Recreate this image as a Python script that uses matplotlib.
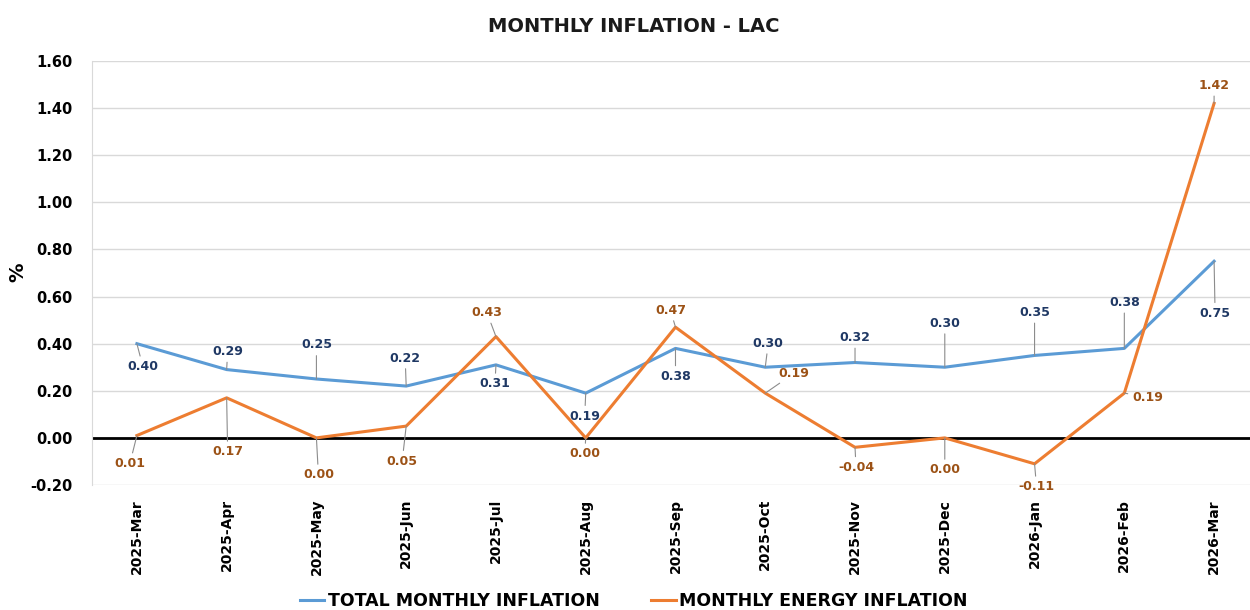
import matplotlib.pyplot as plt
from matplotlib.lines import Line2D

months = ["2025-Mar", "2025-Apr", "2025-May", "2025-Jun", "2025-Jul", "2025-Aug",
          "2025-Sep", "2025-Oct", "2025-Nov", "2025-Dec", "2026-Jan", "2026-Feb",
          "2026-Mar"]
total_infl = [0.40, 0.29, 0.25, 0.22, 0.31, 0.19, 0.38, 0.30, 0.32, 0.30, 0.35, 0.38, 0.75]
energy_infl = [0.01, 0.17, 0.00, 0.05, 0.43, 0.00, 0.47, 0.19, -0.04, 0.00, -0.11, 0.19, 1.42]
yticks = [-0.20, 0.00, 0.20, 0.40, 0.60, 0.80, 1.00, 1.20, 1.40, 1.60]

# label offsets in pixels (dx, dy), placed the way the data labels sit in the source
total_off = [(6, -23), (1, 18), (0, 34), (-1, 28), (-1, -19), (-1, -23), (0, -28),
             (3, 24), (0, 25), (0, 44), (0, 43), (0, 46), (1, -52)]
energy_off = [(-7, -28), (1, -54), (2, -37), (-4, -35), (-9, 24), (-1, -16), (-5, 17),
              (29, 20), (1, -20), (0, -32), (2, -23), (23, -4), (0, 18)]

BLUE = "#5b9bd5"
ORANGE = "#ed7d31"
BLUE_TXT = "#1f3864"
ORANGE_TXT = "#9c5216"
FONT = ["Liberation Sans Narrow", "DejaVu Sans"]
plt.rcParams["font.family"] = FONT

fig = plt.figure(figsize=(12.5, 6.1), dpi=100)
ax = fig.add_axes([92 / 1250, 125 / 610, 1158 / 1250, 424 / 610])

x = list(range(len(months)))
ax.plot(x, total_infl, color=BLUE, lw=2.2, zorder=3)
ax.plot(x, energy_infl, color=ORANGE, lw=2.2, zorder=3)
ax.axhline(0, color="black", lw=2, zorder=2)


def labels(vals, offs, color):
    for i, (v, (dx, dy)) in enumerate(zip(vals, offs)):
        ax.annotate(f"{v:.2f}", (i, v), xytext=(dx, dy), textcoords="offset pixels",
                    ha="center", va="center", fontsize=9, fontweight="bold",
                    color=color, zorder=5,
                    arrowprops=dict(arrowstyle="-", color="#8c8c8c", lw=0.8,
                                    shrinkA=1, shrinkB=0))


labels(total_infl, total_off, BLUE_TXT)
labels(energy_infl, energy_off, ORANGE_TXT)

ax.set_xlim(-0.5, 12.4)
ax.set_ylim(-0.20, 1.60)
ax.set_yticks(yticks)
ax.set_yticklabels([f"{t:.2f}" for t in yticks], fontsize=10.5, fontweight="bold")
ax.set_xticks(x)
ax.set_xticklabels(months, rotation=90, fontsize=10, fontweight="bold")
ax.tick_params(length=0, pad=10)
ax.tick_params(axis="y", pad=14)
ax.grid(axis="y", color="#d9d9d9", lw=1, zorder=0)
for sp in ("top", "right", "bottom"):
    ax.spines[sp].set_visible(False)
ax.spines["left"].set_color("#d9d9d9")
fig.text(18 / 1250, 1 - 272 / 610, "%", rotation=90, ha="center", va="center",
         fontsize=14, fontweight="bold")

fig.text(0.507, 0.956, "MONTHLY INFLATION - LAC", ha="center", va="center",
         fontsize=14, fontweight="bold", color="#1a1a1a")

handles = [Line2D([], [], color=BLUE, lw=2.2), Line2D([], [], color=ORANGE, lw=2.2)]
fig.legend(handles, ["TOTAL MONTHLY INFLATION", "MONTHLY ENERGY INFLATION"],
           loc="center", bbox_to_anchor=(0.507, 0.015), ncol=2, frameon=False,
           prop={"family": FONT, "size": 12.5, "weight": "bold"},
           handlelength=1.4, handletextpad=0.2, columnspacing=3)

fig.savefig("out.png", facecolor="white")
